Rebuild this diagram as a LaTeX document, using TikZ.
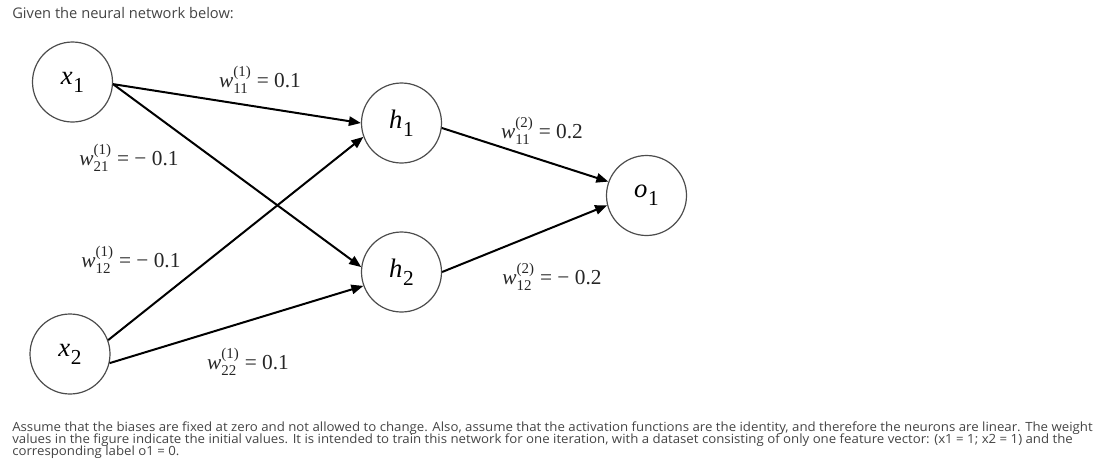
\documentclass[tikz,border=0pt]{standalone}
\usepackage{fontspec}
\usepackage{amsmath}
\setmainfont{Liberation Serif}[ItalicFont={Liberation Serif Italic}]
\newfontfamily\tms{Liberation Serif}[ItalicFont={Liberation Serif Italic}]
\newfontfamily\osans{Open Sans}
\usetikzlibrary{arrows.meta}
\definecolor{txtgray}{HTML}{444444}
\newcommand\lab[2]{{\tms\itshape #1}\kern0.5pt\raisebox{-0.3em}{\tms\fontsize{16}{16}\selectfont #2}}
\newcommand\wt[3]{$\text{\itshape w}^{\text{(#1)}}_{\text{#2}}$ = #3}
\begin{document}
\begin{tikzpicture}[x=0.75pt,y=-0.75pt,
  neuron/.style={circle,draw=black!70,line width=0.9pt,minimum size=60pt,inner sep=0pt,
    font=\tms\fontsize{20}{20}\selectfont},
  conn/.style={line width=1.5pt,-{Triangle[length=9pt,width=7pt]}},
  wlab/.style={font=\tms\fontsize{16}{16}\selectfont,text=black!85,inner sep=0pt},
  para/.style={anchor=base west,inner sep=0pt,text=txtgray,font=\osans\fontsize{9.5}{11}\selectfont}]
\useasboundingbox (0,0) rectangle (1106,475);
\node[para,font=\osans\fontsize{11}{12}\selectfont] (intro) at (12,18) {Given the neural network below:};
\node[neuron] (x1) at (72.5,82) {\lab{x}{1}};
\node[neuron] (x2) at (70,354) {\lab{x}{2}};
\node[neuron] (h1) at (401.5,123) {\lab{h}{1}};
\node[neuron] (h2) at (401.5,272) {\lab{h}{2}};
\node[neuron] (o1) at (646.5,195.5) {\lab{o}{1}};
\draw[conn] (x1.-3) -- (h1.west);
\draw[conn] (x1.-3) -- (h2.173);
\draw[conn] (x2.20) -- (h1.200);
\draw[conn] (x2.-13) -- (h2.200);
\draw[conn] (h1.-7) -- (o1.160);
\draw[conn] (h2.0) -- (o1.194);
\node[wlab] (l1) at (260,80) {\wt{1}{11}{0.1}};
\node[wlab] (l2) at (129,158) {\wt{1}{21}{− 0.1}};
\node[wlab] (l3) at (131,260) {\wt{1}{12}{− 0.1}};
\node[wlab] (l4) at (248,362) {\wt{1}{22}{0.1}};
\node[wlab] (l5) at (542,131) {\wt{2}{11}{0.2}};
\node[wlab] (l6) at (552,277) {\wt{2}{12}{− 0.2}};
\node[para] (p1) at (12,431) {\scalebox{1.045}[1]{Assume that the biases are fixed at zero and not allowed to change. Also, assume that the activation functions are the identity, and therefore the neurons are linear. The weight}};
\node[para] (p2) at (12,443) {\scalebox{1.045}[1]{values in the figure indicate the initial values. It is intended to train this network for one iteration, with a dataset consisting of only one feature vector: (x1 = 1; x2 = 1) and the}};
\node[para] (p3) at (12,455) {\scalebox{1.045}[1]{corresponding label o1 = 0.}};
\end{tikzpicture}
\end{document}
